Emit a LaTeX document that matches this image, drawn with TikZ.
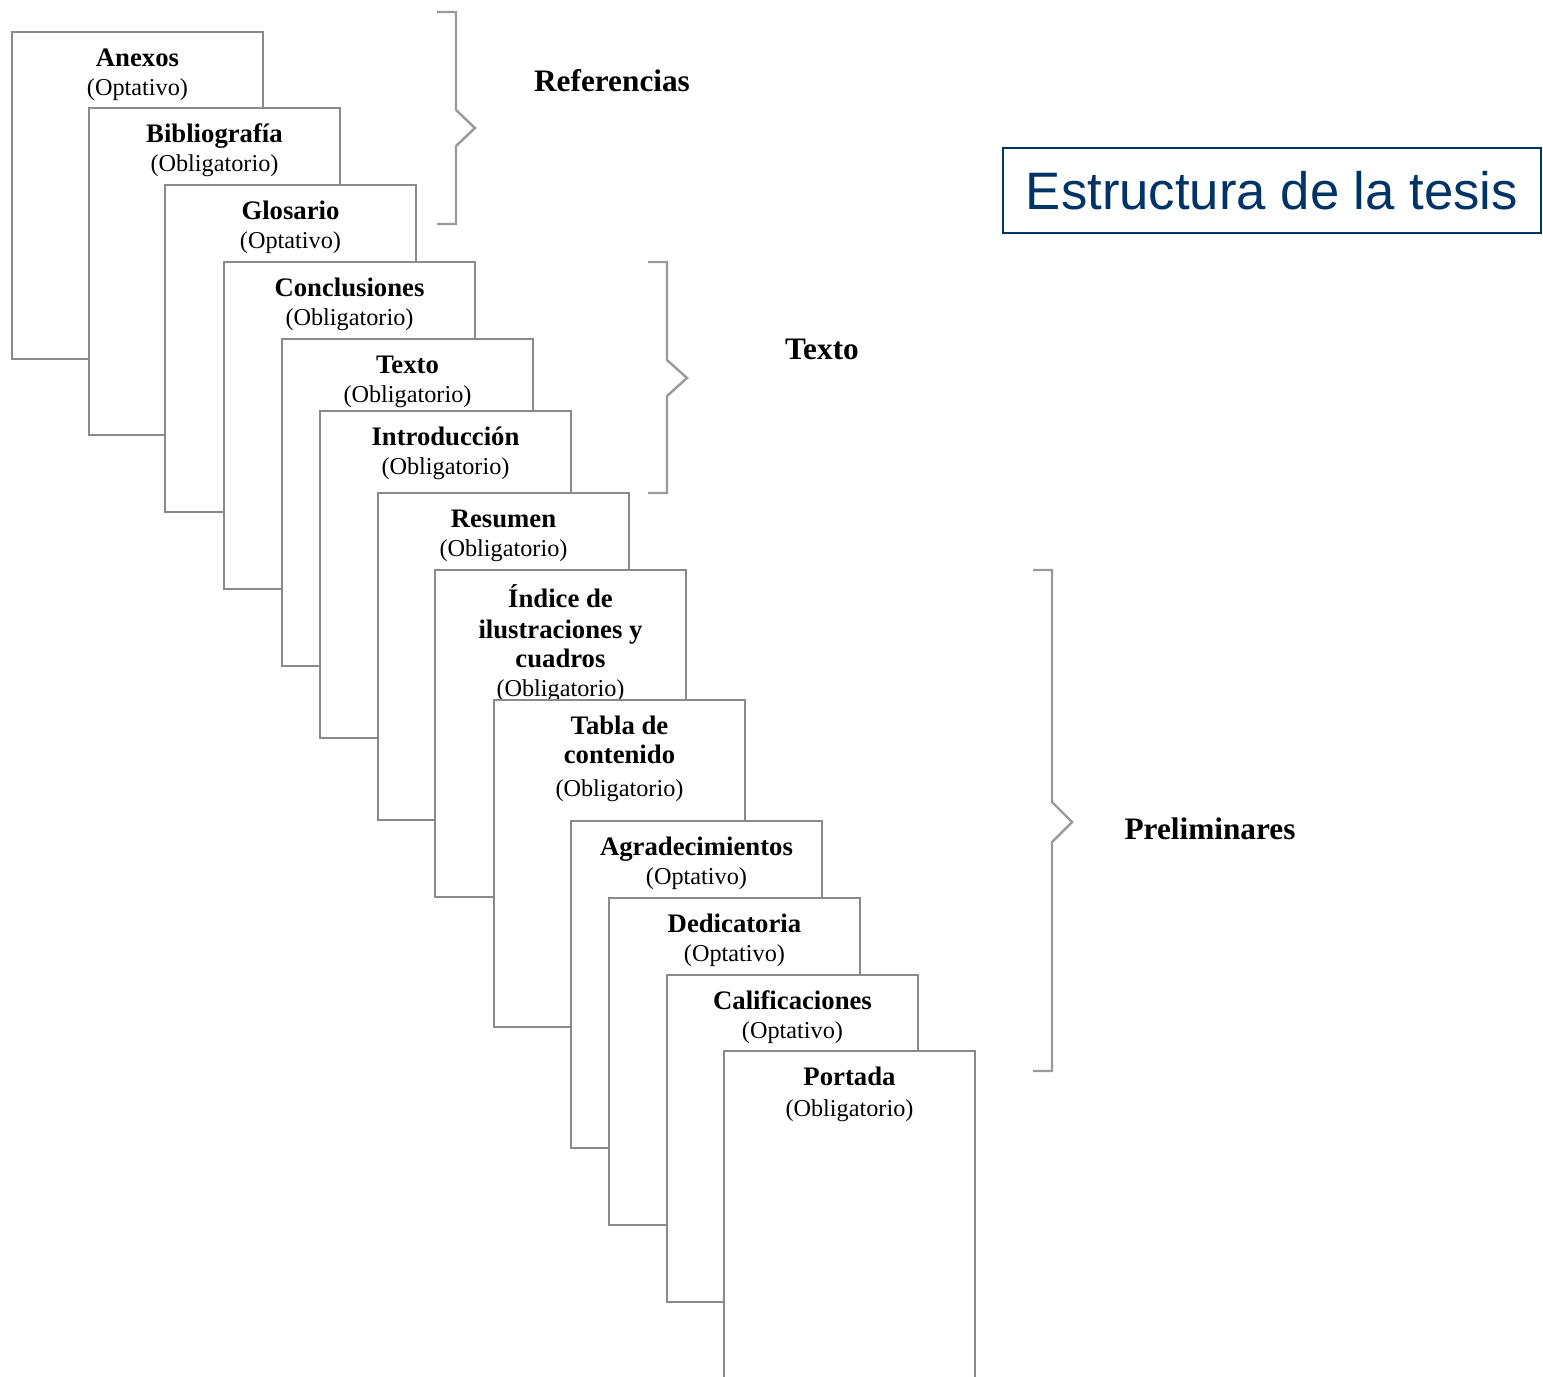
\documentclass[tikz,border=0pt]{standalone}
\usepackage{fontspec}
\setmainfont{Liberation Serif}
\newfontfamily\titulofont{Liberation Sans}
\usetikzlibrary{positioning}
\definecolor{marino}{HTML}{003366}
\definecolor{borde}{HTML}{8A8A8A}
\definecolor{llavegris}{HTML}{9A9A9A}
\newcommand{\nombre}[1]{{\fontsize{15.2}{16.5}\selectfont\bfseries #1}}

\begin{document}
\begin{tikzpicture}[
  x=0.02cm, y=-0.02cm,
  hoja/.style={draw=borde, fill=white, line width=1pt, anchor=north west,
               minimum width=5.02cm, minimum height=6.54cm, inner sep=0pt, outer sep=0pt},
  rotulo/.style={align=center, inner sep=0pt, font=\fontsize{13.8}{16.5}\selectfont},
  grupo/.style={font=\fontsize{17.8}{21}\selectfont\bfseries},
  llave/.style={draw=llavegris, line width=1.4pt},
]
\clip (0,0) rectangle (1543,1377);
% las hojas, de atras hacia adelante
\node[hoja] (anexos) at (12,32) {};
\node[rotulo, below=8pt of anexos.north] (anexos-t) {\strut\nombre{Anexos}\\(Optativo)};
\node[hoja] (biblio) at (89,108) {};
\node[rotulo, below=8pt of biblio.north] (biblio-t) {\strut\nombre{Bibliografía}\\(Obligatorio)};
\node[hoja] (glosario) at (165,185) {};
\node[rotulo, below=8pt of glosario.north] (glosario-t) {\strut\nombre{Glosario}\\(Optativo)};
\node[hoja] (conclu) at (224,262) {};
\node[rotulo, below=8pt of conclu.north] (conclu-t) {\strut\nombre{Conclusiones}\\(Obligatorio)};
\node[hoja] (texto) at (282,339) {};
\node[rotulo, below=8pt of texto.north] (texto-t) {\strut\nombre{Texto}\\(Obligatorio)};
\node[hoja] (intro) at (320,411) {};
\node[rotulo, below=8pt of intro.north] (intro-t) {\strut\nombre{Introducción}\\(Obligatorio)};
\node[hoja] (resumen) at (378,493) {};
\node[rotulo, below=8pt of resumen.north] (resumen-t) {\strut\nombre{Resumen}\\(Obligatorio)};
\node[hoja] (indice) at (435,570) {};
\node[rotulo, below=8pt of indice.north] (indice-t) {\strut\nombre{Índice de}\\[1pt]\nombre{ilustraciones y}\\\nombre{cuadros}\\(Obligatorio)};
\node[hoja] (tabla) at (494,700) {};
\node[rotulo, below=8pt of tabla.north] (tabla-t) {\strut\nombre{Tabla de}\\\nombre{contenido}\\[2pt](Obligatorio)};
\node[hoja] (agrad) at (571,821) {};
\node[rotulo, below=8pt of agrad.north] (agrad-t) {\strut\nombre{Agradecimientos}\\(Optativo)};
\node[hoja] (dedic) at (609,898) {};
\node[rotulo, below=8pt of dedic.north] (dedic-t) {\strut\nombre{Dedicatoria}\\(Optativo)};
\node[hoja] (calif) at (667,975) {};
\node[rotulo, below=8pt of calif.north] (calif-t) {\strut\nombre{Calificaciones}\\(Optativo)};
\node[hoja] (portada) at (724,1051) {};
\node[rotulo, below=8pt of portada.north] (portada-t) {\strut\nombre{Portada}\\[1pt](Obligatorio)};
% llaves de los tres grupos
\draw[llave] (437,12) -- (456,12) -- (456,110) -- (475,128) -- (456,146) -- (456,224) -- (437,224);
\draw[llave] (648,262) -- (667,262) -- (667,360) -- (687,378) -- (667,396) -- (667,493) -- (648,493);
\draw[llave] (1033,570) -- (1052,570) -- (1052,802) -- (1072,822) -- (1052,842) -- (1052,1071) -- (1033,1071);
\node[grupo] (referencias) at (612,81) {Referencias};
\node[grupo] (cuerpo) at (822,349) {Texto};
\node[grupo] (prelim) at (1210,829) {Preliminares};
% titulo
\node[draw=marino, line width=0.9pt, text=marino, inner sep=0pt,
      minimum width=10.76cm, minimum height=1.7cm,
      font=\titulofont\fontsize{30}{36}\selectfont] (titulo) at (1272,190.5) {Estructura de la tesis};
\end{tikzpicture}
\end{document}
